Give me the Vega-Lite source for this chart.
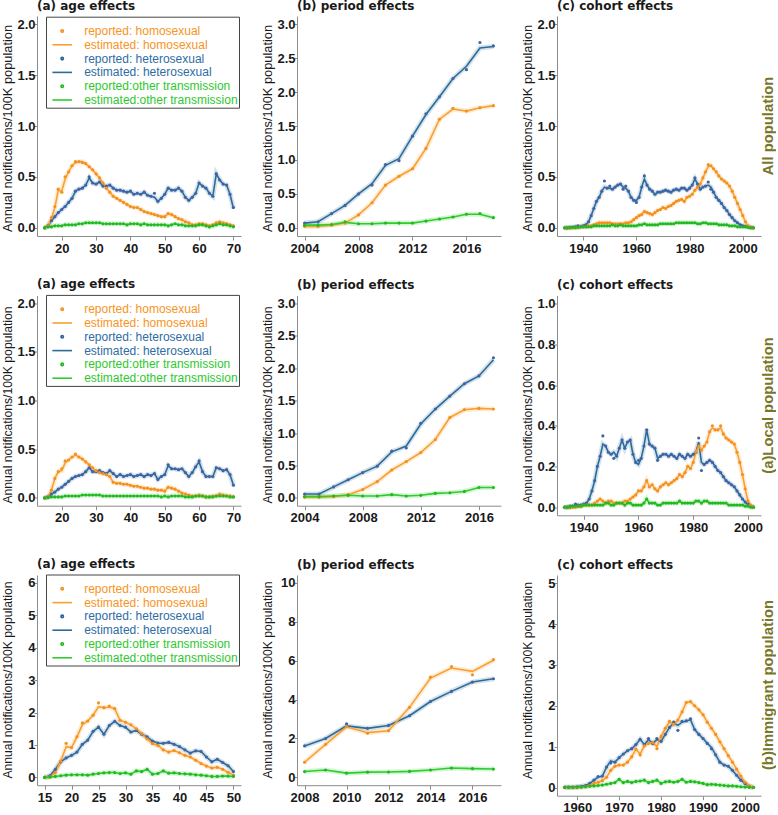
{
"$schema": "https://vega.github.io/schema/vega-lite/v6.json",
"padding": {"left": 0, "top": -1, "right": 0, "bottom": 0},
"columns": 3,
"spacing": {"row": 59.5, "column": 56},
"bounds": "flush",
"resolve": {"scale": {"x": "independent", "y": "independent", "color": "independent"}, "legend": {"color": "independent"}},
"config": {
 "view": {"stroke": null},
 "font": "Liberation Sans",
 "axis": {"grid": false, "domainColor": "#8c8c8c", "tickColor": "#8c8c8c", "labelFont": "Liberation Sans", "labelFontWeight": "bold", "labelFontSize": 13, "labelColor": "#1a1a1a", "titleFont": "Liberation Sans", "titleFontWeight": "normal", "titleColor": "#1a1a1a", "labelFlush": false, "labelOverlap": false},
 "axisX": {"labelPadding": 2, "tickSize": 4},
 "axisY": {"labelPadding": -1, "tickSize": 3, "titleAngle": 270, "titleBaseline": "alphabetic"},
 "title": {"anchor": "start", "frame": "group", "font": "DejaVu Sans", "fontSize": 12, "fontWeight": "bold", "color": "#1a1a1a", "baseline": "alphabetic"},
 "point": {"filled": true, "size": 10, "opacity": 1},
 "line": {"strokeWidth": 1.6},
 "legend": {"orient": "none", "titleFontSize": 6, "titleColor": "#ffffff", "titlePadding": 1, "padding": 1.3, "labelFont": "Liberation Sans", "labelFontSize": 12, "labelFontWeight": "normal", "strokeColor": "#444444", "fillColor": "#ffffff", "symbolSize": 6, "symbolStrokeWidth": 1.6, "symbolOffset": 8.9, "labelOffset": 16, "rowPadding": 1.8, "symbolOpacity": 1, "legendX": 9}
},
"concat": [
  {"width": 204, "height": 220, "title": {"text": "(a) age effects", "offset": 3.1}, "data": {"name": "a1"},
   "resolve": {"scale": {"color": "independent"}},
   "layer": [
    {"transform": [{"fold": ["e", "h", "o"], "as": ["g", "v"]}], "mark": {"type": "line", "strokeWidth": 5, "opacity": 0.2},
     "encoding": {
      "x": {"field": "x", "type": "quantitative", "scale": {"domain": [12.8, 72.2], "nice": false, "zero": false}, "axis": {"values": [20, 30, 40, 50, 60, 70], "tickCount": 20, "format": "d", "title": null, "labelOverlap": false}},
      "y": {"field": "v", "type": "quantitative", "scale": {"domain": [-0.08, 2.08], "nice": false, "zero": false}, "axis": {"values": [0, 0.5, 1, 1.5, 2], "tickCount": 20, "format": ".1f", "labelOverlap": false, "title": "Annual notifications/100K population", "titleFontSize": 12.8, "titleX": -26, "titleY": 112}},
      "color": {"field": "g", "type": "nominal", "scale": {"domain": ["h", "e", "o", "H", "E", "O"], "range": ["#F8A030", "#2B6C98", "#2FCC2F", "#F39020", "#3F63A8", "#22B822"]}, "legend": null}}},
    {"transform": [{"fold": ["e", "h", "o"], "as": ["g", "v"]}], "mark": "line",
     "encoding": {"x": {"field": "x", "type": "quantitative"}, "y": {"field": "v", "type": "quantitative"}, "color": {"field": "g", "type": "nominal", "scale": {"domain": ["h", "e", "o", "H", "E", "O"], "range": ["#F8A030", "#2B6C98", "#2FCC2F", "#F39020", "#3F63A8", "#22B822"]}, "legend": null}}},
    {"transform": [{"fold": ["E", "H", "O"], "as": ["g", "v"]}], "mark": "point",
     "encoding": {"x": {"field": "x", "type": "quantitative"}, "y": {"field": "v", "type": "quantitative"}, "color": {"field": "g", "type": "nominal", "scale": {"domain": ["h", "e", "o", "H", "E", "O"], "range": ["#F8A030", "#2B6C98", "#2FCC2F", "#F39020", "#3F63A8", "#22B822"]}, "legend": null}}},
    {"data": {"name": "leg"}, "transform": [{"filter": "false"}], "mark": {"type": "point", "filled": false, "strokeWidth": 1.6, "size": 6},
     "encoding": {
      "color": {"field": "item", "type": "nominal", "scale": {"domain": ["reported: homosexual", "estimated: homosexual", "reported: heterosexual", "estimated: heterosexual", "reported:other transmission", "estimated:other transmission"], "range": ["#F39020", "#F8A030", "#2F5F9E", "#2B6C98", "#22B822", "#2FCC2F"]},
       "legend": {"title": ".", "legendY": 0.7, "symbolType": {"expr": "indexof(datum.value,'reported')===0 ? 'circle' : 'M-8,0L8,0'"}, "labelColor": {"expr": "indexof(datum.value,'homo')>=0 ? '#F7941D' : indexof(datum.value,'hetero')>=0 ? '#2E6DA4' : '#2EC82E'"}}}}}
   ]},
  {"width": 204, "height": 220, "title": {"text": "(b) period effects", "offset": 3.1}, "data": {"name": "p1"},
   "layer": [
    {"transform": [{"fold": ["e", "h", "o"], "as": ["g", "v"]}], "mark": {"type": "line", "strokeWidth": 5, "opacity": 0.2},
     "encoding": {
      "x": {"field": "x", "type": "quantitative", "scale": {"domain": [2003.44, 2018.56], "nice": false, "zero": false}, "axis": {"values": [2004, 2008, 2012, 2016], "tickCount": 20, "format": "d", "title": null, "labelOverlap": false}},
      "y": {"field": "v", "type": "quantitative", "scale": {"domain": [-0.12, 3.12], "nice": false, "zero": false}, "axis": {"values": [0, 0.5, 1, 1.5, 2, 2.5, 3], "tickCount": 20, "format": ".1f", "labelOverlap": false, "title": "Annual notifications/100K population", "titleFontSize": 12.8, "titleX": -26, "titleY": 112}},
      "color": {"field": "g", "type": "nominal", "scale": {"domain": ["h", "e", "o", "H", "E", "O"], "range": ["#F8A030", "#2B6C98", "#2FCC2F", "#F39020", "#3F63A8", "#22B822"]}, "legend": null}}},
    {"transform": [{"fold": ["e", "h", "o"], "as": ["g", "v"]}], "mark": "line",
     "encoding": {"x": {"field": "x", "type": "quantitative"}, "y": {"field": "v", "type": "quantitative"}, "color": {"field": "g", "type": "nominal", "legend": null}}},
    {"transform": [{"fold": ["E", "H", "O"], "as": ["g", "v"]}], "mark": "point",
     "encoding": {"x": {"field": "x", "type": "quantitative"}, "y": {"field": "v", "type": "quantitative"}, "color": {"field": "g", "type": "nominal", "legend": null}}}
   ]},
  {"width": 204, "height": 220, "title": {"text": "(c) cohort effects", "offset": 3.1}, "data": {"name": "c1"},
   "resolve": {"axis": {"y": "independent"}},
   "layer": [
    {"transform": [{"fold": ["e", "h", "o"], "as": ["g", "v"]}], "mark": {"type": "line", "strokeWidth": 5, "opacity": 0.2},
     "encoding": {
      "x": {"field": "x", "type": "quantitative", "scale": {"domain": [1930.16, 2006.84], "nice": false, "zero": false}, "axis": {"values": [1940, 1960, 1980, 2000], "tickCount": 20, "format": "d", "title": null, "labelOverlap": false}},
      "y": {"field": "v", "type": "quantitative", "scale": {"domain": [-0.08, 2.08], "nice": false, "zero": false}, "axis": {"values": [0, 0.5, 1, 1.5, 2], "tickCount": 20, "format": ".1f", "labelOverlap": false, "title": "Annual notifications/100K population", "titleFontSize": 12.8, "titleX": -26, "titleY": 112}},
      "color": {"field": "g", "type": "nominal", "scale": {"domain": ["h", "e", "o", "H", "E", "O"], "range": ["#F8A030", "#2B6C98", "#2FCC2F", "#F39020", "#3F63A8", "#22B822"]}, "legend": null}}},
    {"transform": [{"fold": ["e", "h", "o"], "as": ["g", "v"]}], "mark": "line",
     "encoding": {"x": {"field": "x", "type": "quantitative"}, "y": {"field": "v", "type": "quantitative", "axis": null}, "color": {"field": "g", "type": "nominal", "legend": null}}},
    {"transform": [{"fold": ["E", "H", "O"], "as": ["g", "v"]}], "mark": "point",
     "encoding": {"x": {"field": "x", "type": "quantitative"}, "y": {"field": "v", "type": "quantitative", "axis": {"orient": "right", "title": "All population", "domain": false, "ticks": false, "labels": false, "titleColor": "#77772A", "titleFontSize": 14.8, "titleFontWeight": "bold", "titleAngle": 270, "titleX": 11.5, "titleY": 109.5}}, "color": {"field": "g", "type": "nominal", "legend": null}}}
   ]},
  {"width": 204, "height": 210.2, "title": {"text": "(a) age effects", "offset": 3.1}, "data": {"name": "a2"},
   "resolve": {"scale": {"color": "independent"}},
   "layer": [
    {"transform": [{"fold": ["e", "h", "o"], "as": ["g", "v"]}], "mark": {"type": "line", "strokeWidth": 5, "opacity": 0.2},
     "encoding": {
      "x": {"field": "x", "type": "quantitative", "scale": {"domain": [12.8, 72.2], "nice": false, "zero": false}, "axis": {"values": [20, 30, 40, 50, 60, 70], "tickCount": 20, "format": "d", "title": null, "labelOverlap": false}},
      "y": {"field": "v", "type": "quantitative", "scale": {"domain": [-0.08, 2.08], "nice": false, "zero": false}, "axis": {"values": [0, 0.5, 1, 1.5, 2], "tickCount": 20, "format": ".1f", "labelOverlap": false, "title": "Annual notifications/100K population", "titleFontSize": 12.2, "titleX": -26, "titleY": 109}},
      "color": {"field": "g", "type": "nominal", "scale": {"domain": ["h", "e", "o", "H", "E", "O"], "range": ["#F8A030", "#2B6C98", "#2FCC2F", "#F39020", "#3F63A8", "#22B822"]}, "legend": null}}},
    {"transform": [{"fold": ["e", "h", "o"], "as": ["g", "v"]}], "mark": "line",
     "encoding": {"x": {"field": "x", "type": "quantitative"}, "y": {"field": "v", "type": "quantitative"}, "color": {"field": "g", "type": "nominal", "scale": {"domain": ["h", "e", "o", "H", "E", "O"], "range": ["#F8A030", "#2B6C98", "#2FCC2F", "#F39020", "#3F63A8", "#22B822"]}, "legend": null}}},
    {"transform": [{"fold": ["E", "H", "O"], "as": ["g", "v"]}], "mark": "point",
     "encoding": {"x": {"field": "x", "type": "quantitative"}, "y": {"field": "v", "type": "quantitative"}, "color": {"field": "g", "type": "nominal", "scale": {"domain": ["h", "e", "o", "H", "E", "O"], "range": ["#F8A030", "#2B6C98", "#2FCC2F", "#F39020", "#3F63A8", "#22B822"]}, "legend": null}}},
    {"data": {"name": "leg"}, "transform": [{"filter": "false"}], "mark": {"type": "point", "filled": false, "strokeWidth": 1.6, "size": 6},
     "encoding": {
      "color": {"field": "item", "type": "nominal", "scale": {"domain": ["reported: homosexual", "estimated: homosexual", "reported: heterosexual", "estimated: heterosexual", "reported:other transmission", "estimated:other transmission"], "range": ["#F39020", "#F8A030", "#2F5F9E", "#2B6C98", "#22B822", "#2FCC2F"]},
       "legend": {"title": ".", "legendY": -0.6, "symbolType": {"expr": "indexof(datum.value,'reported')===0 ? 'circle' : 'M-8,0L8,0'"}, "labelColor": {"expr": "indexof(datum.value,'homo')>=0 ? '#F7941D' : indexof(datum.value,'hetero')>=0 ? '#2E6DA4' : '#2EC82E'"}}}}}
   ]},
  {"width": 204, "height": 210.2, "title": {"text": "(b) period effects", "offset": 3.1}, "data": {"name": "p2"},
   "layer": [
    {"transform": [{"fold": ["e", "h", "o"], "as": ["g", "v"]}], "mark": {"type": "line", "strokeWidth": 5, "opacity": 0.2},
     "encoding": {
      "x": {"field": "x", "type": "quantitative", "scale": {"domain": [2003.48, 2017.52], "nice": false, "zero": false}, "axis": {"values": [2004, 2008, 2012, 2016], "tickCount": 20, "format": "d", "title": null, "labelOverlap": false}},
      "y": {"field": "v", "type": "quantitative", "scale": {"domain": [-0.12, 3.12], "nice": false, "zero": false}, "axis": {"values": [0, 0.5, 1, 1.5, 2, 2.5, 3], "tickCount": 20, "format": ".1f", "labelOverlap": false, "title": "Annual notifications/100K population", "titleFontSize": 12.2, "titleX": -26, "titleY": 109}},
      "color": {"field": "g", "type": "nominal", "scale": {"domain": ["h", "e", "o", "H", "E", "O"], "range": ["#F8A030", "#2B6C98", "#2FCC2F", "#F39020", "#3F63A8", "#22B822"]}, "legend": null}}},
    {"transform": [{"fold": ["e", "h", "o"], "as": ["g", "v"]}], "mark": "line",
     "encoding": {"x": {"field": "x", "type": "quantitative"}, "y": {"field": "v", "type": "quantitative"}, "color": {"field": "g", "type": "nominal", "legend": null}}},
    {"transform": [{"fold": ["E", "H", "O"], "as": ["g", "v"]}], "mark": "point",
     "encoding": {"x": {"field": "x", "type": "quantitative"}, "y": {"field": "v", "type": "quantitative"}, "color": {"field": "g", "type": "nominal", "legend": null}}}
   ]},
  {"width": 204, "height": 219.8, "title": {"text": "(c) cohort effects", "offset": 3.1}, "data": {"name": "c2"},
   "resolve": {"axis": {"y": "independent"}},
   "layer": [
    {"transform": [{"fold": ["e", "h", "o"], "as": ["g", "v"]}], "mark": {"type": "line", "strokeWidth": 5, "opacity": 0.2},
     "encoding": {
      "x": {"field": "x", "type": "quantitative", "scale": {"domain": [1930.24, 2004.76], "nice": false, "zero": false}, "axis": {"values": [1940, 1960, 1980, 2000], "tickCount": 20, "format": "d", "title": null, "labelOverlap": false}},
      "y": {"field": "v", "type": "quantitative", "scale": {"domain": [-0.04, 1.04], "nice": false, "zero": false}, "axis": {"values": [0, 0.2, 0.4, 0.6, 0.8, 1], "tickCount": 20, "format": ".1f", "labelOverlap": false, "title": "Annual notifications/100K population", "titleFontSize": 12.2, "titleX": -26, "titleY": 109}},
      "color": {"field": "g", "type": "nominal", "scale": {"domain": ["h", "e", "o", "H", "E", "O"], "range": ["#F8A030", "#2B6C98", "#2FCC2F", "#F39020", "#3F63A8", "#22B822"]}, "legend": null}}},
    {"transform": [{"fold": ["e", "h", "o"], "as": ["g", "v"]}], "mark": "line",
     "encoding": {"x": {"field": "x", "type": "quantitative"}, "y": {"field": "v", "type": "quantitative", "axis": null}, "color": {"field": "g", "type": "nominal", "legend": null}}},
    {"transform": [{"fold": ["E", "H", "O"], "as": ["g", "v"]}], "mark": "point",
     "encoding": {"x": {"field": "x", "type": "quantitative"}, "y": {"field": "v", "type": "quantitative", "axis": {"orient": "right", "title": "(a)Local population", "domain": false, "ticks": false, "labels": false, "titleColor": "#77772A", "titleFontSize": 14.8, "titleFontWeight": "bold", "titleAngle": 270, "titleX": 11.5, "titleY": 109.5}}, "color": {"field": "g", "type": "nominal", "legend": null}}}
   ]},
  {"width": 204, "height": 210.2, "title": {"text": "(a) age effects", "offset": 3.1}, "data": {"name": "a3"},
   "resolve": {"scale": {"color": "independent"}},
   "layer": [
    {"transform": [{"fold": ["e", "h", "o"], "as": ["g", "v"]}], "mark": {"type": "line", "strokeWidth": 5, "opacity": 0.2},
     "encoding": {
      "x": {"field": "x", "type": "quantitative", "scale": {"domain": [13.6, 51.4], "nice": false, "zero": false}, "axis": {"values": [15, 20, 25, 30, 35, 40, 45, 50], "tickCount": 20, "format": "d", "title": null, "labelOverlap": false}},
      "y": {"field": "v", "type": "quantitative", "scale": {"domain": [-0.24, 6.24], "nice": false, "zero": false}, "axis": {"values": [0, 1, 2, 3, 4, 5, 6], "tickCount": 20, "format": "d", "labelOverlap": false, "title": "Annual notifications/100K population", "titleFontSize": 12.2, "titleX": -26, "titleY": 104.5}},
      "color": {"field": "g", "type": "nominal", "scale": {"domain": ["h", "e", "o", "H", "E", "O"], "range": ["#F8A030", "#2B6C98", "#2FCC2F", "#F39020", "#3F63A8", "#22B822"]}, "legend": null}}},
    {"transform": [{"fold": ["e", "h", "o"], "as": ["g", "v"]}], "mark": "line",
     "encoding": {"x": {"field": "x", "type": "quantitative"}, "y": {"field": "v", "type": "quantitative"}, "color": {"field": "g", "type": "nominal", "scale": {"domain": ["h", "e", "o", "H", "E", "O"], "range": ["#F8A030", "#2B6C98", "#2FCC2F", "#F39020", "#3F63A8", "#22B822"]}, "legend": null}}},
    {"transform": [{"fold": ["E", "H", "O"], "as": ["g", "v"]}], "mark": "point",
     "encoding": {"x": {"field": "x", "type": "quantitative"}, "y": {"field": "v", "type": "quantitative"}, "color": {"field": "g", "type": "nominal", "scale": {"domain": ["h", "e", "o", "H", "E", "O"], "range": ["#F8A030", "#2B6C98", "#2FCC2F", "#F39020", "#3F63A8", "#22B822"]}, "legend": null}}},
    {"data": {"name": "leg"}, "transform": [{"filter": "false"}], "mark": {"type": "point", "filled": false, "strokeWidth": 1.6, "size": 6},
     "encoding": {
      "color": {"field": "item", "type": "nominal", "scale": {"domain": ["reported: homosexual", "estimated: homosexual", "reported: heterosexual", "estimated: heterosexual", "reported:other transmission", "estimated:other transmission"], "range": ["#F39020", "#F8A030", "#2F5F9E", "#2B6C98", "#22B822", "#2FCC2F"]},
       "legend": {"title": ".", "legendY": -0.5, "symbolType": {"expr": "indexof(datum.value,'reported')===0 ? 'circle' : 'M-8,0L8,0'"}, "labelColor": {"expr": "indexof(datum.value,'homo')>=0 ? '#F7941D' : indexof(datum.value,'hetero')>=0 ? '#2E6DA4' : '#2EC82E'"}}}}}
   ]},
  {"width": 204, "height": 210.2, "title": {"text": "(b) period effects", "offset": 3.1}, "data": {"name": "p3"},
   "layer": [
    {"transform": [{"fold": ["e", "h", "o"], "as": ["g", "v"]}], "mark": {"type": "line", "strokeWidth": 5, "opacity": 0.2},
     "encoding": {
      "x": {"field": "x", "type": "quantitative", "scale": {"domain": [2007.64, 2017.36], "nice": false, "zero": false}, "axis": {"values": [2008, 2010, 2012, 2014, 2016], "tickCount": 20, "format": "d", "title": null, "labelOverlap": false}},
      "y": {"field": "v", "type": "quantitative", "scale": {"domain": [-0.4, 10.4], "nice": false, "zero": false}, "axis": {"values": [0, 2, 4, 6, 8, 10], "tickCount": 20, "format": "d", "labelOverlap": false, "title": "Annual notifications/100K population", "titleFontSize": 12.2, "titleX": -26, "titleY": 104.5}},
      "color": {"field": "g", "type": "nominal", "scale": {"domain": ["h", "e", "o", "H", "E", "O"], "range": ["#F8A030", "#2B6C98", "#2FCC2F", "#F39020", "#3F63A8", "#22B822"]}, "legend": null}}},
    {"transform": [{"fold": ["e", "h", "o"], "as": ["g", "v"]}], "mark": "line",
     "encoding": {"x": {"field": "x", "type": "quantitative"}, "y": {"field": "v", "type": "quantitative"}, "color": {"field": "g", "type": "nominal", "legend": null}}},
    {"transform": [{"fold": ["E", "H", "O"], "as": ["g", "v"]}], "mark": "point",
     "encoding": {"x": {"field": "x", "type": "quantitative"}, "y": {"field": "v", "type": "quantitative"}, "color": {"field": "g", "type": "nominal", "legend": null}}}
   ]},
  {"width": 204, "height": 220.7, "title": {"text": "(c) cohort effects", "offset": 3.1}, "data": {"name": "c3"},
   "resolve": {"axis": {"y": "independent"}},
   "layer": [
    {"transform": [{"fold": ["e", "h", "o"], "as": ["g", "v"]}], "mark": {"type": "line", "strokeWidth": 5, "opacity": 0.2},
     "encoding": {
      "x": {"field": "x", "type": "quantitative", "scale": {"domain": [1955.2, 2003.8], "nice": false, "zero": false}, "axis": {"values": [1960, 1970, 1980, 1990, 2000], "tickCount": 20, "format": "d", "title": null, "labelOverlap": false}},
      "y": {"field": "v", "type": "quantitative", "scale": {"domain": [-0.2, 5.2], "nice": false, "zero": false}, "axis": {"values": [0, 1, 2, 3, 4, 5], "tickCount": 20, "format": "d", "labelOverlap": false, "title": "Annual notifications/100K population", "titleFontSize": 12.2, "titleX": -26, "titleY": 105}},
      "color": {"field": "g", "type": "nominal", "scale": {"domain": ["h", "e", "o", "H", "E", "O"], "range": ["#F8A030", "#2B6C98", "#2FCC2F", "#F39020", "#3F63A8", "#22B822"]}, "legend": null}}},
    {"transform": [{"fold": ["e", "h", "o"], "as": ["g", "v"]}], "mark": "line",
     "encoding": {"x": {"field": "x", "type": "quantitative"}, "y": {"field": "v", "type": "quantitative", "axis": null}, "color": {"field": "g", "type": "nominal", "legend": null}}},
    {"transform": [{"fold": ["E", "H", "O"], "as": ["g", "v"]}], "mark": "point",
     "encoding": {"x": {"field": "x", "type": "quantitative"}, "y": {"field": "v", "type": "quantitative", "axis": {"orient": "right", "title": "(b)Immigrant population", "domain": false, "ticks": false, "labels": false, "titleColor": "#77772A", "titleFontSize": 14.8, "titleFontWeight": "bold", "titleAngle": 270, "titleX": 11.5, "titleY": 109.5}}, "color": {"field": "g", "type": "nominal", "legend": null}}}
   ]}
],
"datasets": {
"leg": [{"item": "reported: homosexual"}, {"item": "estimated: homosexual"}, {"item": "reported: heterosexual"}, {"item": "estimated: heterosexual"}, {"item": "reported:other transmission"}, {"item": "estimated:other transmission"}],
"a1": [
{"x":15,"h":0,"e":0,"o":0,"H":0,"E":0,"O":0},
{"x":16,"h":0.02,"e":0.02,"o":0.01,"H":0.02,"E":0.02,"O":0.01},
{"x":17,"h":0.09,"e":0.07,"o":0.01,"H":0.1,"E":0.07,"O":0.01},
{"x":18,"h":0.2,"e":0.11,"o":0.02,"H":0.21,"E":0.11,"O":0.02},
{"x":19,"h":0.37,"e":0.15,"o":0.02,"H":0.38,"E":0.15,"O":0.02},
{"x":20,"h":0.36,"e":0.18,"o":0.02,"H":0.35,"E":0.18,"O":0.02},
{"x":21,"h":0.48,"e":0.21,"o":0.03,"H":0.5,"E":0.21,"O":0.03},
{"x":22,"h":0.55,"e":0.25,"o":0.03,"H":0.55,"E":0.25,"O":0.03},
{"x":23,"h":0.61,"e":0.29,"o":0.03,"H":0.61,"E":0.29,"O":0.03},
{"x":24,"h":0.64,"e":0.36,"o":0.03,"H":0.65,"E":0.36,"O":0.03},
{"x":25,"h":0.65,"e":0.38,"o":0.04,"H":0.65,"E":0.38,"O":0.04},
{"x":26,"h":0.65,"e":0.39,"o":0.04,"H":0.64,"E":0.39,"O":0.04},
{"x":27,"h":0.63,"e":0.42,"o":0.05,"H":0.63,"E":0.42,"O":0.05},
{"x":28,"h":0.6,"e":0.49,"o":0.05,"H":0.6,"E":0.5,"O":0.05},
{"x":29,"h":0.57,"e":0.44,"o":0.05,"H":0.57,"E":0.44,"O":0.05},
{"x":30,"h":0.53,"e":0.43,"o":0.05,"H":0.53,"E":0.43,"O":0.05},
{"x":31,"h":0.49,"e":0.45,"o":0.05,"H":0.49,"E":0.45,"O":0.05},
{"x":32,"h":0.44,"e":0.41,"o":0.04,"H":0.44,"E":0.41,"O":0.04},
{"x":33,"h":0.39,"e":0.41,"o":0.04,"H":0.39,"E":0.41,"O":0.04},
{"x":34,"h":0.35,"e":0.42,"o":0.04,"H":0.35,"E":0.42,"O":0.04},
{"x":35,"h":0.31,"e":0.39,"o":0.04,"H":0.31,"E":0.39,"O":0.04},
{"x":36,"h":0.29,"e":0.37,"o":0.04,"H":0.29,"E":0.37,"O":0.04},
{"x":37,"h":0.27,"e":0.37,"o":0.04,"H":0.27,"E":0.37,"O":0.04},
{"x":38,"h":0.25,"e":0.36,"o":0.04,"H":0.25,"E":0.36,"O":0.04},
{"x":39,"h":0.23,"e":0.35,"o":0.03,"H":0.23,"E":0.35,"O":0.03},
{"x":40,"h":0.21,"e":0.36,"o":0.04,"H":0.21,"E":0.36,"O":0.04},
{"x":41,"h":0.2,"e":0.33,"o":0.04,"H":0.2,"E":0.33,"O":0.04},
{"x":42,"h":0.2,"e":0.34,"o":0.04,"H":0.2,"E":0.34,"O":0.04},
{"x":43,"h":0.18,"e":0.33,"o":0.03,"H":0.18,"E":0.33,"O":0.03},
{"x":44,"h":0.16,"e":0.35,"o":0.04,"H":0.16,"E":0.35,"O":0.04},
{"x":45,"h":0.15,"e":0.32,"o":0.03,"H":0.15,"E":0.32,"O":0.03},
{"x":46,"h":0.14,"e":0.31,"o":0.03,"H":0.14,"E":0.31,"O":0.03},
{"x":47,"h":0.13,"e":0.3,"o":0.03,"H":0.13,"E":0.34,"O":0.03},
{"x":48,"h":0.12,"e":0.26,"o":0.03,"H":0.12,"E":0.26,"O":0.03},
{"x":49,"h":0.11,"e":0.29,"o":0.03,"H":0.11,"E":0.29,"O":0.03},
{"x":50,"h":0.11,"e":0.33,"o":0.03,"H":0.11,"E":0.33,"O":0.03},
{"x":51,"h":0.14,"e":0.39,"o":0.02,"H":0.14,"E":0.39,"O":0.02},
{"x":52,"h":0.13,"e":0.37,"o":0.03,"H":0.13,"E":0.37,"O":0.03},
{"x":53,"h":0.11,"e":0.37,"o":0.04,"H":0.11,"E":0.37,"O":0.04},
{"x":54,"h":0.09,"e":0.39,"o":0.03,"H":0.09,"E":0.39,"O":0.03},
{"x":55,"h":0.08,"e":0.36,"o":0.03,"H":0.08,"E":0.36,"O":0.03},
{"x":56,"h":0.06,"e":0.3,"o":0.02,"H":0.06,"E":0.3,"O":0.02},
{"x":57,"h":0.05,"e":0.27,"o":0.02,"H":0.05,"E":0.27,"O":0.02},
{"x":58,"h":0.03,"e":0.3,"o":0.02,"H":0.03,"E":0.3,"O":0.02},
{"x":59,"h":0.03,"e":0.34,"o":0.02,"H":0.03,"E":0.34,"O":0.02},
{"x":60,"h":0.04,"e":0.44,"o":0.03,"H":0.04,"E":0.44,"O":0.03},
{"x":61,"h":0.04,"e":0.41,"o":0.03,"H":0.04,"E":0.41,"O":0.03},
{"x":62,"h":0.03,"e":0.39,"o":0.02,"H":0.03,"E":0.39,"O":0.02},
{"x":63,"h":0.02,"e":0.34,"o":0.01,"H":0.02,"E":0.34,"O":0.01},
{"x":64,"h":0.03,"e":0.31,"o":0.02,"H":0.03,"E":0.31,"O":0.02},
{"x":65,"h":0.05,"e":0.53,"o":0.03,"H":0.05,"E":0.53,"O":0.03},
{"x":66,"h":0.06,"e":0.47,"o":0.04,"H":0.06,"E":0.47,"O":0.04},
{"x":67,"h":0.05,"e":0.43,"o":0.03,"H":0.05,"E":0.43,"O":0.03},
{"x":68,"h":0.04,"e":0.42,"o":0.03,"H":0.04,"E":0.42,"O":0.03},
{"x":69,"h":0.03,"e":0.33,"o":0.02,"H":0.03,"E":0.33,"O":0.02},
{"x":70,"h":0.02,"e":0.19,"o":0.01,"H":0.02,"E":0.2,"O":0.01}
],
"a2": [
{"x":15,"h":0,"e":0,"o":0,"H":0,"E":0,"O":0},
{"x":16,"h":0.01,"e":0.01,"o":0.005,"H":0.01,"E":0.01,"O":0.005},
{"x":17,"h":0.08,"e":0.04,"o":0.01,"H":0.08,"E":0.04,"O":0.01},
{"x":18,"h":0.2,"e":0.06,"o":0.01,"H":0.2,"E":0.06,"O":0.01},
{"x":19,"h":0.27,"e":0.09,"o":0.01,"H":0.27,"E":0.09,"O":0.01},
{"x":20,"h":0.28,"e":0.11,"o":0.01,"H":0.3,"E":0.11,"O":0.01},
{"x":21,"h":0.36,"e":0.14,"o":0.02,"H":0.38,"E":0.14,"O":0.02},
{"x":22,"h":0.39,"e":0.17,"o":0.02,"H":0.39,"E":0.17,"O":0.02},
{"x":23,"h":0.42,"e":0.2,"o":0.02,"H":0.42,"E":0.2,"O":0.02},
{"x":24,"h":0.44,"e":0.22,"o":0.02,"H":0.45,"E":0.22,"O":0.02},
{"x":25,"h":0.42,"e":0.23,"o":0.02,"H":0.42,"E":0.23,"O":0.02},
{"x":26,"h":0.4,"e":0.24,"o":0.03,"H":0.4,"E":0.24,"O":0.03},
{"x":27,"h":0.37,"e":0.27,"o":0.03,"H":0.37,"E":0.27,"O":0.03},
{"x":28,"h":0.34,"e":0.31,"o":0.03,"H":0.34,"E":0.31,"O":0.03},
{"x":29,"h":0.31,"e":0.27,"o":0.03,"H":0.31,"E":0.27,"O":0.03},
{"x":30,"h":0.28,"e":0.27,"o":0.03,"H":0.28,"E":0.27,"O":0.03},
{"x":31,"h":0.26,"e":0.28,"o":0.03,"H":0.26,"E":0.28,"O":0.03},
{"x":32,"h":0.25,"e":0.26,"o":0.02,"H":0.25,"E":0.26,"O":0.02},
{"x":33,"h":0.24,"e":0.25,"o":0.02,"H":0.24,"E":0.25,"O":0.02},
{"x":34,"h":0.22,"e":0.28,"o":0.02,"H":0.22,"E":0.28,"O":0.02},
{"x":35,"h":0.16,"e":0.25,"o":0.02,"H":0.16,"E":0.25,"O":0.02},
{"x":36,"h":0.15,"e":0.22,"o":0.02,"H":0.15,"E":0.22,"O":0.02},
{"x":37,"h":0.15,"e":0.24,"o":0.02,"H":0.15,"E":0.24,"O":0.02},
{"x":38,"h":0.14,"e":0.22,"o":0.02,"H":0.14,"E":0.22,"O":0.02},
{"x":39,"h":0.14,"e":0.23,"o":0.02,"H":0.14,"E":0.23,"O":0.02},
{"x":40,"h":0.13,"e":0.24,"o":0.02,"H":0.13,"E":0.24,"O":0.02},
{"x":41,"h":0.12,"e":0.22,"o":0.02,"H":0.12,"E":0.22,"O":0.02},
{"x":42,"h":0.12,"e":0.23,"o":0.02,"H":0.12,"E":0.23,"O":0.02},
{"x":43,"h":0.11,"e":0.24,"o":0.02,"H":0.11,"E":0.24,"O":0.02},
{"x":44,"h":0.1,"e":0.22,"o":0.02,"H":0.1,"E":0.22,"O":0.02},
{"x":45,"h":0.1,"e":0.24,"o":0.02,"H":0.1,"E":0.24,"O":0.02},
{"x":46,"h":0.09,"e":0.23,"o":0.02,"H":0.09,"E":0.23,"O":0.02},
{"x":47,"h":0.09,"e":0.25,"o":0.02,"H":0.09,"E":0.25,"O":0.02},
{"x":48,"h":0.08,"e":0.19,"o":0.02,"H":0.08,"E":0.19,"O":0.02},
{"x":49,"h":0.08,"e":0.22,"o":0.01,"H":0.08,"E":0.22,"O":0.01},
{"x":50,"h":0.07,"e":0.24,"o":0.02,"H":0.07,"E":0.24,"O":0.02},
{"x":51,"h":0.11,"e":0.33,"o":0.01,"H":0.11,"E":0.34,"O":0.01},
{"x":52,"h":0.1,"e":0.3,"o":0.02,"H":0.1,"E":0.3,"O":0.02},
{"x":53,"h":0.09,"e":0.3,"o":0.02,"H":0.09,"E":0.3,"O":0.02},
{"x":54,"h":0.07,"e":0.29,"o":0.02,"H":0.07,"E":0.29,"O":0.02},
{"x":55,"h":0.05,"e":0.3,"o":0.02,"H":0.05,"E":0.3,"O":0.02},
{"x":56,"h":0.04,"e":0.26,"o":0.01,"H":0.04,"E":0.26,"O":0.01},
{"x":57,"h":0.03,"e":0.22,"o":0.01,"H":0.03,"E":0.22,"O":0.01},
{"x":58,"h":0.02,"e":0.26,"o":0.01,"H":0.02,"E":0.26,"O":0.01},
{"x":59,"h":0.02,"e":0.32,"o":0.02,"H":0.02,"E":0.32,"O":0.02},
{"x":60,"h":0.03,"e":0.37,"o":0.02,"H":0.03,"E":0.38,"O":0.02},
{"x":61,"h":0.02,"e":0.27,"o":0.02,"H":0.02,"E":0.27,"O":0.02},
{"x":62,"h":0.01,"e":0.22,"o":0.01,"H":0.01,"E":0.22,"O":0.01},
{"x":63,"h":0.01,"e":0.22,"o":0.01,"H":0.01,"E":0.22,"O":0.01},
{"x":64,"h":0.02,"e":0.22,"o":0.01,"H":0.02,"E":0.22,"O":0.01},
{"x":65,"h":0.02,"e":0.31,"o":0.02,"H":0.02,"E":0.31,"O":0.02},
{"x":66,"h":0.04,"e":0.3,"o":0.02,"H":0.04,"E":0.3,"O":0.02},
{"x":67,"h":0.03,"e":0.28,"o":0.02,"H":0.03,"E":0.28,"O":0.02},
{"x":68,"h":0.02,"e":0.29,"o":0.02,"H":0.02,"E":0.29,"O":0.02},
{"x":69,"h":0.02,"e":0.24,"o":0.01,"H":0.02,"E":0.24,"O":0.01},
{"x":70,"h":0.01,"e":0.13,"o":0.01,"H":0.01,"E":0.13,"O":0.01}
],
"a3": [
{"x":15,"h":0,"e":0,"o":0,"H":0,"E":0,"O":0},
{"x":16,"h":0.02,"e":0.05,"o":0.01,"H":0.02,"E":0.05,"O":0.01},
{"x":17,"h":0.15,"e":0.25,"o":0.03,"H":0.15,"E":0.25,"O":0.03},
{"x":18,"h":0.5,"e":0.48,"o":0.05,"H":0.5,"E":0.48,"O":0.05},
{"x":19,"h":0.95,"e":0.6,"o":0.07,"H":1.05,"E":0.6,"O":0.07},
{"x":20,"h":0.92,"e":0.68,"o":0.08,"H":0.92,"E":0.68,"O":0.08},
{"x":21,"h":1.25,"e":0.78,"o":0.08,"H":1.25,"E":0.78,"O":0.08},
{"x":22,"h":1.62,"e":1.02,"o":0.08,"H":1.68,"E":1.02,"O":0.08},
{"x":23,"h":1.74,"e":1.15,"o":0.07,"H":1.74,"E":1.15,"O":0.07},
{"x":24,"h":1.92,"e":1.42,"o":0.1,"H":1.92,"E":1.42,"O":0.1},
{"x":25,"h":2.18,"e":1.55,"o":0.12,"H":2.3,"E":1.55,"O":0.12},
{"x":26,"h":2.15,"e":1.33,"o":0.14,"H":2.15,"E":1.33,"O":0.14},
{"x":27,"h":2.17,"e":1.6,"o":0.15,"H":2.2,"E":1.6,"O":0.15},
{"x":28,"h":2.12,"e":1.73,"o":0.15,"H":2.12,"E":1.73,"O":0.15},
{"x":29,"h":1.76,"e":1.6,"o":0.12,"H":1.76,"E":1.6,"O":0.12},
{"x":30,"h":1.7,"e":1.55,"o":0.14,"H":1.7,"E":1.55,"O":0.14},
{"x":31,"h":1.62,"e":1.4,"o":0.1,"H":1.62,"E":1.4,"O":0.1},
{"x":32,"h":1.5,"e":1.45,"o":0.2,"H":1.5,"E":1.45,"O":0.2},
{"x":33,"h":1.35,"e":1.33,"o":0.18,"H":1.35,"E":1.33,"O":0.18},
{"x":34,"h":1.19,"e":1.25,"o":0.25,"H":1.19,"E":1.25,"O":0.25},
{"x":35,"h":1.04,"e":1.12,"o":0.1,"H":1.04,"E":1.12,"O":0.1},
{"x":36,"h":0.99,"e":1.06,"o":0.12,"H":0.99,"E":1.06,"O":0.12},
{"x":37,"h":0.85,"e":1.05,"o":0.2,"H":0.85,"E":1.05,"O":0.2},
{"x":38,"h":0.78,"e":1.08,"o":0.13,"H":0.78,"E":1.08,"O":0.13},
{"x":39,"h":0.83,"e":1.02,"o":0.14,"H":0.83,"E":1.02,"O":0.14},
{"x":40,"h":0.76,"e":0.95,"o":0.12,"H":0.76,"E":0.95,"O":0.12},
{"x":41,"h":0.68,"e":0.85,"o":0.11,"H":0.68,"E":0.85,"O":0.11},
{"x":42,"h":0.63,"e":0.75,"o":0.1,"H":0.63,"E":0.75,"O":0.1},
{"x":43,"h":0.53,"e":0.82,"o":0.08,"H":0.53,"E":0.82,"O":0.08},
{"x":44,"h":0.43,"e":0.8,"o":0.07,"H":0.43,"E":0.8,"O":0.07},
{"x":45,"h":0.35,"e":0.63,"o":0.05,"H":0.35,"E":0.63,"O":0.05},
{"x":46,"h":0.29,"e":0.48,"o":0.03,"H":0.29,"E":0.48,"O":0.03},
{"x":47,"h":0.31,"e":0.56,"o":0.03,"H":0.31,"E":0.56,"O":0.03},
{"x":48,"h":0.25,"e":0.46,"o":0.04,"H":0.25,"E":0.46,"O":0.04},
{"x":49,"h":0.16,"e":0.36,"o":0.04,"H":0.16,"E":0.36,"O":0.04},
{"x":50,"h":0.07,"e":0.18,"o":0.03,"H":0.07,"E":0.18,"O":0.03}
],
"p1": [
{"x":2004,"h":0.02,"e":0.07,"o":0.04,"H":0.02,"E":0.07,"O":0.04},
{"x":2005,"h":0.02,"e":0.09,"o":0.04,"H":0.02,"E":0.09,"O":0.04},
{"x":2006,"h":0.04,"e":0.21,"o":0.05,"H":0.04,"E":0.21,"O":0.05},
{"x":2007,"h":0.07,"e":0.33,"o":0.08,"H":0.07,"E":0.33,"O":0.09},
{"x":2008,"h":0.19,"e":0.5,"o":0.06,"H":0.19,"E":0.5,"O":0.06},
{"x":2009,"h":0.37,"e":0.65,"o":0.06,"H":0.37,"E":0.63,"O":0.06},
{"x":2010,"h":0.63,"e":0.92,"o":0.07,"H":0.63,"E":0.93,"O":0.07},
{"x":2011,"h":0.76,"e":1.02,"o":0.07,"H":0.76,"E":0.99,"O":0.07},
{"x":2012,"h":0.87,"e":1.35,"o":0.07,"H":0.87,"E":1.35,"O":0.07},
{"x":2013,"h":1.17,"e":1.67,"o":0.1,"H":1.17,"E":1.68,"O":0.1},
{"x":2014,"h":1.6,"e":1.93,"o":0.13,"H":1.6,"E":1.93,"O":0.13},
{"x":2015,"h":1.75,"e":2.2,"o":0.16,"H":1.76,"E":2.2,"O":0.16},
{"x":2016,"h":1.72,"e":2.38,"o":0.2,"H":1.72,"E":2.33,"O":0.2},
{"x":2017,"h":1.77,"e":2.65,"o":0.2,"H":1.77,"E":2.73,"O":0.21},
{"x":2018,"h":1.8,"e":2.67,"o":0.15,"H":1.8,"E":2.68,"O":0.15}
],
"p2": [
{"x":2004,"h":0.01,"e":0.06,"o":0.02,"H":0.01,"E":0.06,"O":0.02},
{"x":2005,"h":0.01,"e":0.06,"o":0.02,"H":0.01,"E":0.06,"O":0.02},
{"x":2006,"h":0.02,"e":0.17,"o":0.03,"H":0.02,"E":0.17,"O":0.03},
{"x":2007,"h":0.05,"e":0.28,"o":0.04,"H":0.05,"E":0.28,"O":0.04},
{"x":2008,"h":0.13,"e":0.39,"o":0.03,"H":0.13,"E":0.39,"O":0.03},
{"x":2009,"h":0.25,"e":0.49,"o":0.03,"H":0.25,"E":0.49,"O":0.03},
{"x":2010,"h":0.43,"e":0.71,"o":0.05,"H":0.43,"E":0.72,"O":0.05},
{"x":2011,"h":0.56,"e":0.8,"o":0.03,"H":0.56,"E":0.77,"O":0.03},
{"x":2012,"h":0.7,"e":1.14,"o":0.04,"H":0.7,"E":1.15,"O":0.04},
{"x":2013,"h":0.9,"e":1.37,"o":0.07,"H":0.9,"E":1.37,"O":0.07},
{"x":2014,"h":1.24,"e":1.57,"o":0.08,"H":1.24,"E":1.57,"O":0.08},
{"x":2015,"h":1.36,"e":1.76,"o":0.1,"H":1.36,"E":1.76,"O":0.1},
{"x":2016,"h":1.38,"e":1.88,"o":0.16,"H":1.38,"E":1.88,"O":0.16},
{"x":2017,"h":1.37,"e":2.13,"o":0.16,"H":1.37,"E":2.16,"O":0.16}
],
"p3": [
{"x":2008,"h":0.78,"e":1.62,"o":0.3,"H":0.78,"E":1.62,"O":0.3},
{"x":2009,"h":1.7,"e":2.0,"o":0.38,"H":1.7,"E":2.0,"O":0.38},
{"x":2010,"h":2.6,"e":2.65,"o":0.22,"H":2.62,"E":2.75,"O":0.22},
{"x":2011,"h":2.3,"e":2.52,"o":0.27,"H":2.27,"E":2.52,"O":0.27},
{"x":2012,"h":2.4,"e":2.67,"o":0.28,"H":2.4,"E":2.67,"O":0.28},
{"x":2013,"h":3.6,"e":3.17,"o":0.31,"H":3.6,"E":3.17,"O":0.31},
{"x":2014,"h":5.1,"e":3.9,"o":0.38,"H":5.15,"E":3.9,"O":0.38},
{"x":2015,"h":5.62,"e":4.42,"o":0.48,"H":5.7,"E":4.42,"O":0.48},
{"x":2016,"h":5.45,"e":4.9,"o":0.45,"H":5.27,"E":4.9,"O":0.45},
{"x":2017,"h":6.02,"e":5.07,"o":0.43,"H":6.05,"E":5.07,"O":0.43}
],
"c1": [
{"x":1933,"h":0,"e":0,"o":0,"H":0,"E":0,"O":0},
{"x":1934,"h":0,"e":0,"o":0,"H":0,"E":0,"O":0},
{"x":1935,"h":0,"e":0.005,"o":0,"H":0,"E":0.005,"O":0},
{"x":1936,"h":0,"e":0.005,"o":0.005,"H":0,"E":0.005,"O":0.005},
{"x":1937,"h":0,"e":0.01,"o":0.005,"H":0,"E":0.01,"O":0.005},
{"x":1938,"h":0.005,"e":0.01,"o":0.005,"H":0.005,"E":0.02,"O":0.005},
{"x":1939,"h":0.01,"e":0.01,"o":0.01,"H":0.01,"E":0.01,"O":0.01},
{"x":1940,"h":0.01,"e":0.02,"o":0.01,"H":0.01,"E":0.02,"O":0.01},
{"x":1941,"h":0.01,"e":0.03,"o":0.01,"H":0.01,"E":0.03,"O":0.01},
{"x":1942,"h":0.02,"e":0.06,"o":0.01,"H":0.02,"E":0.06,"O":0.01},
{"x":1943,"h":0.02,"e":0.12,"o":0.01,"H":0.02,"E":0.12,"O":0.01},
{"x":1944,"h":0.03,"e":0.19,"o":0.02,"H":0.03,"E":0.19,"O":0.02},
{"x":1945,"h":0.04,"e":0.26,"o":0.02,"H":0.04,"E":0.26,"O":0.02},
{"x":1946,"h":0.05,"e":0.3,"o":0.02,"H":0.05,"E":0.3,"O":0.02},
{"x":1947,"h":0.05,"e":0.36,"o":0.02,"H":0.05,"E":0.36,"O":0.02},
{"x":1948,"h":0.05,"e":0.4,"o":0.02,"H":0.05,"E":0.46,"O":0.02},
{"x":1949,"h":0.05,"e":0.39,"o":0.02,"H":0.05,"E":0.39,"O":0.02},
{"x":1950,"h":0.05,"e":0.39,"o":0.02,"H":0.05,"E":0.41,"O":0.02},
{"x":1951,"h":0.04,"e":0.38,"o":0.03,"H":0.04,"E":0.38,"O":0.03},
{"x":1952,"h":0.04,"e":0.4,"o":0.02,"H":0.04,"E":0.4,"O":0.02},
{"x":1953,"h":0.04,"e":0.42,"o":0.02,"H":0.04,"E":0.42,"O":0.02},
{"x":1954,"h":0.04,"e":0.43,"o":0.03,"H":0.04,"E":0.43,"O":0.03},
{"x":1955,"h":0.04,"e":0.4,"o":0.02,"H":0.04,"E":0.38,"O":0.02},
{"x":1956,"h":0.05,"e":0.39,"o":0.02,"H":0.05,"E":0.41,"O":0.02},
{"x":1957,"h":0.05,"e":0.36,"o":0.02,"H":0.05,"E":0.36,"O":0.02},
{"x":1958,"h":0.06,"e":0.3,"o":0.02,"H":0.06,"E":0.3,"O":0.02},
{"x":1959,"h":0.08,"e":0.27,"o":0.02,"H":0.08,"E":0.27,"O":0.02},
{"x":1960,"h":0.1,"e":0.27,"o":0.02,"H":0.1,"E":0.25,"O":0.02},
{"x":1961,"h":0.12,"e":0.3,"o":0.03,"H":0.12,"E":0.3,"O":0.03},
{"x":1962,"h":0.13,"e":0.4,"o":0.03,"H":0.13,"E":0.4,"O":0.03},
{"x":1963,"h":0.16,"e":0.48,"o":0.04,"H":0.16,"E":0.51,"O":0.04},
{"x":1964,"h":0.15,"e":0.42,"o":0.03,"H":0.15,"E":0.42,"O":0.03},
{"x":1965,"h":0.14,"e":0.38,"o":0.03,"H":0.14,"E":0.38,"O":0.03},
{"x":1966,"h":0.13,"e":0.36,"o":0.03,"H":0.13,"E":0.36,"O":0.03},
{"x":1967,"h":0.15,"e":0.33,"o":0.03,"H":0.15,"E":0.33,"O":0.03},
{"x":1968,"h":0.17,"e":0.35,"o":0.03,"H":0.17,"E":0.35,"O":0.03},
{"x":1969,"h":0.18,"e":0.35,"o":0.04,"H":0.18,"E":0.35,"O":0.04},
{"x":1970,"h":0.2,"e":0.36,"o":0.04,"H":0.2,"E":0.36,"O":0.04},
{"x":1971,"h":0.19,"e":0.37,"o":0.04,"H":0.19,"E":0.37,"O":0.04},
{"x":1972,"h":0.21,"e":0.36,"o":0.04,"H":0.21,"E":0.36,"O":0.04},
{"x":1973,"h":0.22,"e":0.35,"o":0.04,"H":0.22,"E":0.35,"O":0.04},
{"x":1974,"h":0.24,"e":0.37,"o":0.04,"H":0.24,"E":0.37,"O":0.04},
{"x":1975,"h":0.26,"e":0.38,"o":0.05,"H":0.26,"E":0.38,"O":0.05},
{"x":1976,"h":0.27,"e":0.37,"o":0.05,"H":0.27,"E":0.37,"O":0.05},
{"x":1977,"h":0.28,"e":0.39,"o":0.05,"H":0.28,"E":0.39,"O":0.05},
{"x":1978,"h":0.26,"e":0.39,"o":0.05,"H":0.26,"E":0.39,"O":0.05},
{"x":1979,"h":0.3,"e":0.37,"o":0.05,"H":0.3,"E":0.37,"O":0.05},
{"x":1980,"h":0.31,"e":0.39,"o":0.05,"H":0.31,"E":0.39,"O":0.05},
{"x":1981,"h":0.33,"e":0.42,"o":0.05,"H":0.33,"E":0.42,"O":0.05},
{"x":1982,"h":0.37,"e":0.48,"o":0.05,"H":0.37,"E":0.49,"O":0.05},
{"x":1983,"h":0.4,"e":0.43,"o":0.04,"H":0.4,"E":0.43,"O":0.04},
{"x":1984,"h":0.43,"e":0.38,"o":0.04,"H":0.43,"E":0.38,"O":0.04},
{"x":1985,"h":0.49,"e":0.4,"o":0.05,"H":0.49,"E":0.4,"O":0.05},
{"x":1986,"h":0.55,"e":0.41,"o":0.05,"H":0.55,"E":0.41,"O":0.05},
{"x":1987,"h":0.6,"e":0.42,"o":0.04,"H":0.62,"E":0.45,"O":0.04},
{"x":1988,"h":0.61,"e":0.4,"o":0.04,"H":0.61,"E":0.38,"O":0.04},
{"x":1989,"h":0.58,"e":0.35,"o":0.04,"H":0.58,"E":0.35,"O":0.04},
{"x":1990,"h":0.55,"e":0.3,"o":0.04,"H":0.55,"E":0.3,"O":0.04},
{"x":1991,"h":0.51,"e":0.27,"o":0.03,"H":0.51,"E":0.27,"O":0.03},
{"x":1992,"h":0.48,"e":0.24,"o":0.03,"H":0.48,"E":0.24,"O":0.03},
{"x":1993,"h":0.46,"e":0.2,"o":0.03,"H":0.46,"E":0.2,"O":0.03},
{"x":1994,"h":0.44,"e":0.17,"o":0.03,"H":0.44,"E":0.17,"O":0.03},
{"x":1995,"h":0.41,"e":0.13,"o":0.02,"H":0.41,"E":0.13,"O":0.02},
{"x":1996,"h":0.36,"e":0.1,"o":0.02,"H":0.36,"E":0.1,"O":0.02},
{"x":1997,"h":0.3,"e":0.07,"o":0.02,"H":0.3,"E":0.07,"O":0.02},
{"x":1998,"h":0.24,"e":0.05,"o":0.01,"H":0.24,"E":0.05,"O":0.01},
{"x":1999,"h":0.18,"e":0.03,"o":0.01,"H":0.18,"E":0.03,"O":0.01},
{"x":2000,"h":0.12,"e":0.02,"o":0.01,"H":0.12,"E":0.02,"O":0.01},
{"x":2001,"h":0.06,"e":0.015,"o":0.01,"H":0.06,"E":0.015,"O":0.01},
{"x":2002,"h":0.02,"e":0.01,"o":0.005,"H":0.02,"E":0.01,"O":0.005},
{"x":2003,"h":0.005,"e":0.005,"o":0,"H":0.005,"E":0.005,"O":0},
{"x":2004,"h":0,"e":0,"o":0,"H":0,"E":0,"O":0}
],
"c2": [
{"x":1933,"h":0,"e":0,"o":0,"H":0,"E":0,"O":0},
{"x":1934,"h":0,"e":0,"o":0,"H":0,"E":0,"O":0},
{"x":1935,"h":0,"e":0.005,"o":0,"H":0,"E":0.005,"O":0},
{"x":1936,"h":0,"e":0.005,"o":0.005,"H":0,"E":0.005,"O":0.005},
{"x":1937,"h":0,"e":0.01,"o":0.005,"H":0,"E":0.015,"O":0.005},
{"x":1938,"h":0.005,"e":0.01,"o":0.005,"H":0.005,"E":0.01,"O":0.005},
{"x":1939,"h":0.005,"e":0.01,"o":0.005,"H":0.005,"E":0.01,"O":0.005},
{"x":1940,"h":0.01,"e":0.015,"o":0.01,"H":0.01,"E":0.015,"O":0.01},
{"x":1941,"h":0.01,"e":0.02,"o":0.01,"H":0.01,"E":0.02,"O":0.01},
{"x":1942,"h":0.01,"e":0.04,"o":0.01,"H":0.01,"E":0.04,"O":0.01},
{"x":1943,"h":0.01,"e":0.08,"o":0.01,"H":0.01,"E":0.08,"O":0.01},
{"x":1944,"h":0.02,"e":0.13,"o":0.01,"H":0.02,"E":0.13,"O":0.01},
{"x":1945,"h":0.03,"e":0.2,"o":0.01,"H":0.03,"E":0.2,"O":0.01},
{"x":1946,"h":0.04,"e":0.25,"o":0.01,"H":0.04,"E":0.25,"O":0.01},
{"x":1947,"h":0.03,"e":0.31,"o":0.01,"H":0.03,"E":0.35,"O":0.01},
{"x":1948,"h":0.02,"e":0.3,"o":0.02,"H":0.02,"E":0.3,"O":0.02},
{"x":1949,"h":0.03,"e":0.27,"o":0.02,"H":0.03,"E":0.27,"O":0.02},
{"x":1950,"h":0.03,"e":0.26,"o":0.01,"H":0.03,"E":0.26,"O":0.01},
{"x":1951,"h":0.02,"e":0.27,"o":0.01,"H":0.02,"E":0.24,"O":0.01},
{"x":1952,"h":0.02,"e":0.25,"o":0.02,"H":0.02,"E":0.25,"O":0.02},
{"x":1953,"h":0.02,"e":0.29,"o":0.02,"H":0.02,"E":0.29,"O":0.02},
{"x":1954,"h":0.02,"e":0.33,"o":0.02,"H":0.02,"E":0.33,"O":0.02},
{"x":1955,"h":0.03,"e":0.29,"o":0.01,"H":0.03,"E":0.29,"O":0.01},
{"x":1956,"h":0.03,"e":0.32,"o":0.02,"H":0.03,"E":0.32,"O":0.02},
{"x":1957,"h":0.04,"e":0.33,"o":0.02,"H":0.04,"E":0.33,"O":0.02},
{"x":1958,"h":0.05,"e":0.26,"o":0.01,"H":0.05,"E":0.26,"O":0.01},
{"x":1959,"h":0.06,"e":0.22,"o":0.01,"H":0.06,"E":0.22,"O":0.01},
{"x":1960,"h":0.08,"e":0.21,"o":0.01,"H":0.08,"E":0.23,"O":0.01},
{"x":1961,"h":0.08,"e":0.24,"o":0.01,"H":0.08,"E":0.24,"O":0.01},
{"x":1962,"h":0.1,"e":0.3,"o":0.02,"H":0.1,"E":0.3,"O":0.02},
{"x":1963,"h":0.13,"e":0.38,"o":0.04,"H":0.13,"E":0.38,"O":0.04},
{"x":1964,"h":0.1,"e":0.31,"o":0.02,"H":0.1,"E":0.31,"O":0.02},
{"x":1965,"h":0.11,"e":0.3,"o":0.02,"H":0.11,"E":0.3,"O":0.02},
{"x":1966,"h":0.09,"e":0.29,"o":0.02,"H":0.09,"E":0.29,"O":0.02},
{"x":1967,"h":0.08,"e":0.24,"o":0.01,"H":0.08,"E":0.23,"O":0.01},
{"x":1968,"h":0.1,"e":0.25,"o":0.01,"H":0.1,"E":0.25,"O":0.01},
{"x":1969,"h":0.11,"e":0.26,"o":0.02,"H":0.11,"E":0.26,"O":0.02},
{"x":1970,"h":0.12,"e":0.26,"o":0.02,"H":0.12,"E":0.26,"O":0.02},
{"x":1971,"h":0.11,"e":0.25,"o":0.02,"H":0.11,"E":0.25,"O":0.02},
{"x":1972,"h":0.12,"e":0.26,"o":0.02,"H":0.12,"E":0.26,"O":0.02},
{"x":1973,"h":0.13,"e":0.25,"o":0.02,"H":0.13,"E":0.25,"O":0.02},
{"x":1974,"h":0.14,"e":0.24,"o":0.02,"H":0.14,"E":0.24,"O":0.02},
{"x":1975,"h":0.16,"e":0.26,"o":0.03,"H":0.16,"E":0.26,"O":0.03},
{"x":1976,"h":0.15,"e":0.25,"o":0.02,"H":0.15,"E":0.25,"O":0.02},
{"x":1977,"h":0.17,"e":0.24,"o":0.02,"H":0.17,"E":0.24,"O":0.02},
{"x":1978,"h":0.2,"e":0.26,"o":0.02,"H":0.2,"E":0.26,"O":0.02},
{"x":1979,"h":0.19,"e":0.25,"o":0.02,"H":0.19,"E":0.25,"O":0.02},
{"x":1980,"h":0.22,"e":0.26,"o":0.02,"H":0.22,"E":0.26,"O":0.02},
{"x":1981,"h":0.27,"e":0.27,"o":0.03,"H":0.27,"E":0.27,"O":0.03},
{"x":1982,"h":0.3,"e":0.32,"o":0.03,"H":0.3,"E":0.34,"O":0.03},
{"x":1983,"h":0.28,"e":0.22,"o":0.02,"H":0.28,"E":0.18,"O":0.02},
{"x":1984,"h":0.3,"e":0.21,"o":0.03,"H":0.3,"E":0.21,"O":0.03},
{"x":1985,"h":0.32,"e":0.22,"o":0.03,"H":0.32,"E":0.22,"O":0.03},
{"x":1986,"h":0.37,"e":0.23,"o":0.02,"H":0.37,"E":0.23,"O":0.02},
{"x":1987,"h":0.39,"e":0.22,"o":0.02,"H":0.4,"E":0.22,"O":0.02},
{"x":1988,"h":0.38,"e":0.2,"o":0.02,"H":0.38,"E":0.2,"O":0.02},
{"x":1989,"h":0.38,"e":0.18,"o":0.02,"H":0.38,"E":0.18,"O":0.02},
{"x":1990,"h":0.39,"e":0.17,"o":0.02,"H":0.4,"E":0.17,"O":0.02},
{"x":1991,"h":0.36,"e":0.15,"o":0.02,"H":0.36,"E":0.15,"O":0.02},
{"x":1992,"h":0.34,"e":0.13,"o":0.02,"H":0.34,"E":0.13,"O":0.02},
{"x":1993,"h":0.33,"e":0.12,"o":0.01,"H":0.33,"E":0.12,"O":0.01},
{"x":1994,"h":0.32,"e":0.11,"o":0.01,"H":0.32,"E":0.11,"O":0.01},
{"x":1995,"h":0.31,"e":0.1,"o":0.01,"H":0.31,"E":0.1,"O":0.01},
{"x":1996,"h":0.27,"e":0.08,"o":0.01,"H":0.27,"E":0.08,"O":0.01},
{"x":1997,"h":0.22,"e":0.06,"o":0.01,"H":0.22,"E":0.06,"O":0.01},
{"x":1998,"h":0.16,"e":0.04,"o":0.01,"H":0.16,"E":0.04,"O":0.01},
{"x":1999,"h":0.09,"e":0.025,"o":0.005,"H":0.09,"E":0.025,"O":0.005},
{"x":2000,"h":0.03,"e":0.015,"o":0.005,"H":0.03,"E":0.015,"O":0.005},
{"x":2001,"h":0.01,"e":0.005,"o":0,"H":0.01,"E":0.005,"O":0},
{"x":2002,"h":0,"e":0,"o":0,"H":0,"E":0,"O":0}
],
"c3": [
{"x":1957,"h":0,"e":0.01,"o":0,"H":0,"E":0.01,"O":0},
{"x":1958,"h":0,"e":0.01,"o":0,"H":0,"E":0.01,"O":0},
{"x":1959,"h":0,"e":0.01,"o":0,"H":0,"E":0.01,"O":0},
{"x":1960,"h":0.005,"e":0.02,"o":0.005,"H":0.005,"E":0.02,"O":0.005},
{"x":1961,"h":0.01,"e":0.03,"o":0.01,"H":0.01,"E":0.03,"O":0.01},
{"x":1962,"h":0.02,"e":0.05,"o":0.02,"H":0.02,"E":0.05,"O":0.02},
{"x":1963,"h":0.05,"e":0.1,"o":0.03,"H":0.05,"E":0.1,"O":0.03},
{"x":1964,"h":0.1,"e":0.18,"o":0.04,"H":0.1,"E":0.18,"O":0.04},
{"x":1965,"h":0.13,"e":0.25,"o":0.05,"H":0.13,"E":0.27,"O":0.05},
{"x":1966,"h":0.17,"e":0.28,"o":0.06,"H":0.17,"E":0.28,"O":0.06},
{"x":1967,"h":0.25,"e":0.5,"o":0.08,"H":0.25,"E":0.5,"O":0.08},
{"x":1968,"h":0.42,"e":0.65,"o":0.1,"H":0.42,"E":0.6,"O":0.1},
{"x":1969,"h":0.52,"e":0.62,"o":0.12,"H":0.52,"E":0.62,"O":0.12},
{"x":1970,"h":0.55,"e":0.73,"o":0.2,"H":0.55,"E":0.73,"O":0.2},
{"x":1971,"h":0.55,"e":0.82,"o":0.12,"H":0.55,"E":0.82,"O":0.12},
{"x":1972,"h":0.62,"e":0.9,"o":0.15,"H":0.62,"E":0.9,"O":0.15},
{"x":1973,"h":0.75,"e":0.95,"o":0.12,"H":0.75,"E":0.95,"O":0.12},
{"x":1974,"h":0.94,"e":1.05,"o":0.15,"H":0.94,"E":1.05,"O":0.15},
{"x":1975,"h":0.82,"e":1.18,"o":0.16,"H":0.8,"E":1.18,"O":0.16},
{"x":1976,"h":1.02,"e":1.05,"o":0.18,"H":1.02,"E":1.05,"O":0.18},
{"x":1977,"h":1.08,"e":1.17,"o":0.12,"H":1.08,"E":1.2,"O":0.12},
{"x":1978,"h":1.1,"e":1.08,"o":0.15,"H":1.1,"E":1.08,"O":0.15},
{"x":1979,"h":1.0,"e":1.17,"o":0.18,"H":0.95,"E":1.2,"O":0.18},
{"x":1980,"h":1.25,"e":1.13,"o":0.1,"H":1.25,"E":1.13,"O":0.1},
{"x":1981,"h":1.45,"e":1.3,"o":0.14,"H":1.45,"E":1.3,"O":0.14},
{"x":1982,"h":1.6,"e":1.47,"o":0.15,"H":1.62,"E":1.47,"O":0.15},
{"x":1983,"h":1.55,"e":1.58,"o":0.13,"H":1.55,"E":1.6,"O":0.13},
{"x":1984,"h":1.65,"e":1.52,"o":0.15,"H":1.65,"E":1.4,"O":0.15},
{"x":1985,"h":1.85,"e":1.6,"o":0.2,"H":1.85,"E":1.62,"O":0.2},
{"x":1986,"h":2.08,"e":1.63,"o":0.13,"H":2.08,"E":1.63,"O":0.13},
{"x":1987,"h":2.1,"e":1.66,"o":0.15,"H":2.1,"E":1.68,"O":0.15},
{"x":1988,"h":2.0,"e":1.42,"o":0.14,"H":2.0,"E":1.42,"O":0.14},
{"x":1989,"h":1.9,"e":1.3,"o":0.12,"H":1.9,"E":1.3,"O":0.12},
{"x":1990,"h":1.78,"e":1.2,"o":0.1,"H":1.78,"E":1.2,"O":0.1},
{"x":1991,"h":1.6,"e":1.08,"o":0.07,"H":1.6,"E":1.08,"O":0.07},
{"x":1992,"h":1.45,"e":0.98,"o":0.08,"H":1.45,"E":0.95,"O":0.08},
{"x":1993,"h":1.3,"e":0.8,"o":0.07,"H":1.3,"E":0.8,"O":0.07},
{"x":1994,"h":1.12,"e":0.62,"o":0.06,"H":1.12,"E":0.62,"O":0.06},
{"x":1995,"h":0.95,"e":0.55,"o":0.05,"H":0.95,"E":0.55,"O":0.05},
{"x":1996,"h":0.78,"e":0.52,"o":0.04,"H":0.78,"E":0.52,"O":0.04},
{"x":1997,"h":0.62,"e":0.42,"o":0.04,"H":0.62,"E":0.42,"O":0.04},
{"x":1998,"h":0.45,"e":0.3,"o":0.03,"H":0.45,"E":0.3,"O":0.03},
{"x":1999,"h":0.28,"e":0.18,"o":0.02,"H":0.28,"E":0.18,"O":0.02},
{"x":2000,"h":0.13,"e":0.1,"o":0.01,"H":0.13,"E":0.1,"O":0.01},
{"x":2001,"h":0.04,"e":0.03,"o":0.005,"H":0.04,"E":0.03,"O":0.005},
{"x":2002,"h":0.005,"e":0.005,"o":0,"H":0.005,"E":0.005,"O":0}
]
}
}
